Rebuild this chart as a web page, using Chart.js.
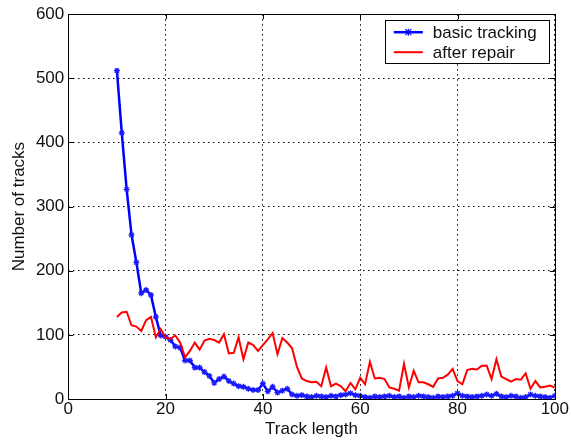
<!DOCTYPE html>
<html>
<head>
<meta charset="utf-8">
<script src="https://cdn.jsdelivr.net/npm/chart.js@4.4.1/dist/chart.umd.min.js"></script>
<style>
  html, body { margin: 0; padding: 0; background: #fff; }
  #wrap { width: 571px; height: 440px; }
</style>
</head>
<body>
<div id="wrap"><canvas id="c" width="571" height="440"></canvas></div>
<script>
const trackLength = [];
for (let i = 10; i <= 100; i++) trackLength.push(i);

const basicTracking = [
  512, 415, 327, 256, 213, 165, 170, 162, 128, 99,
  97, 92, 82, 80, 60, 60, 49, 49, 42, 36,
  25, 31, 35, 28, 24, 20, 19, 16, 14, 14,
  24, 12, 19, 10, 13, 16, 7, 5, 6, 4,
  3, 5, 4, 3, 5, 4, 6, 7, 9, 6,
  5, 3, 2, 4, 3, 4, 5, 3, 4, 2,
  4, 3, 5, 4, 3, 2, 4, 3, 4, 5,
  9, 5, 4, 3, 4, 5, 7, 5, 8, 4,
  3, 5, 4, 2, 3, 7, 5, 4, 3, 2,
  5
];

const afterRepair = [
  128, 135, 136, 115, 113, 106, 123, 128, 96, 109,
  96, 94, 99, 88, 65, 75, 88, 77, 91, 94,
  92, 88, 101, 71, 72, 96, 62, 88, 84, 75,
  84, 93, 103, 70, 95, 88, 79, 50, 32, 28,
  26, 27, 20, 49, 20, 24, 20, 12, 25, 15,
  33, 23, 58, 32, 33, 31, 18, 16, 13, 55,
  18, 44, 26, 26, 23, 19, 32, 33, 38, 47,
  28, 23, 45, 47, 46, 52, 52, 31, 62, 35,
  31, 27, 31, 30, 40, 16, 28, 18, 19, 21,
  18
];

const xTicks = [0, 20, 40, 60, 80, 100];
const yTicks = [0, 100, 200, 300, 400, 500, 600];
const seriesNames = ['basic tracking', 'after repair'];
const FONT = "'Liberation Sans', Arial, Helvetica, sans-serif";

const toPoints = (xs, ys) => xs.map((x, i) => ({ x: x, y: ys[i] }));

const boxPlugin = {
  id: 'boxPlugin',
  afterDatasetsDraw(chart) {
    const { ctx, chartArea: a } = chart;
    ctx.save();
    ctx.strokeStyle = '#000';
    ctx.lineWidth = 1;
    ctx.strokeRect(Math.round(a.left) + 0.5, Math.round(a.top) + 0.5,
                   Math.round(a.right - a.left), Math.round(a.bottom - a.top));
    const xs = chart.scales.x, ys = chart.scales.y;
    ctx.beginPath();
    xTicks.forEach(v => {
      const px = Math.round(xs.getPixelForValue(v)) + 0.5;
      ctx.moveTo(px, a.bottom); ctx.lineTo(px, a.bottom - 5);
      ctx.moveTo(px, a.top); ctx.lineTo(px, a.top + 5);
    });
    yTicks.forEach(v => {
      const py = Math.round(ys.getPixelForValue(v)) + 0.5;
      ctx.moveTo(a.left, py); ctx.lineTo(a.left + 5, py);
      ctx.moveTo(a.right, py); ctx.lineTo(a.right - 5, py);
    });
    ctx.stroke();
    ctx.restore();
  },
  afterDraw(chart) {
    const { ctx, chartArea: a } = chart;
    const ds = chart.data.datasets;
    const bx = a.right - 170, by = a.top + 6, bw = 164, bh = 43;
    ctx.save();
    ctx.fillStyle = '#fff';
    ctx.fillRect(bx, by, bw, bh);
    ctx.strokeStyle = '#000';
    ctx.lineWidth = 1;
    ctx.strokeRect(Math.round(bx) + 0.5, Math.round(by) + 0.5, bw, bh);
    ctx.font = '17px ' + FONT;
    ctx.textBaseline = 'middle';
    const rows = [by + 12, by + 32];
    [0, 1].forEach(i => {
      const y = rows[i];
      ctx.strokeStyle = ds[i].borderColor;
      ctx.lineWidth = ds[i].borderWidth;
      ctx.beginPath();
      ctx.moveTo(bx + 9, y); ctx.lineTo(bx + 38, y);
      ctx.stroke();
      if (i === 0) {
        ctx.lineWidth = 1.2;
        ctx.beginPath();
        ctx.moveTo(bx + 23.5 - 3, y - 3); ctx.lineTo(bx + 23.5 + 3, y + 3);
        ctx.moveTo(bx + 23.5 - 3, y + 3); ctx.lineTo(bx + 23.5 + 3, y - 3);
        ctx.moveTo(bx + 23.5, y - 3.5); ctx.lineTo(bx + 23.5, y + 3.5);
        ctx.stroke();
      }
      ctx.fillStyle = '#111';
      ctx.fillText(seriesNames[i], bx + 48, y + 1);
    });
    ctx.restore();
  }
};

new Chart(document.getElementById('c'), {
  type: 'line',
  data: {
    datasets: [
      {
        label: seriesNames[0],
        data: toPoints(trackLength, basicTracking),
        borderColor: '#0000ff',
        backgroundColor: '#0000ff',
        borderWidth: 2.5,
        pointStyle: 'star',
        pointRadius: 3,
        pointBorderWidth: 1.3,
        pointBorderColor: '#1a1aff',
        tension: 0,
        order: 1
      },
      {
        label: seriesNames[1],
        data: toPoints(trackLength, afterRepair),
        borderColor: '#ff0000',
        backgroundColor: '#ff0000',
        borderWidth: 2,
        pointRadius: 0,
        tension: 0,
        order: 0
      }
    ]
  },
  options: {
    responsive: false,
    animation: false,
    events: [],
    layout: { padding: { left: 9.5, right: 13, top: 10, bottom: 2 } },
    plugins: {
      legend: { display: false },
      tooltip: { enabled: false },
      title: { display: false }
    },
    scales: {
      x: {
        type: 'linear',
        min: 0, max: 100,
        afterBuildTicks: s => { s.ticks = xTicks.map(v => ({ value: v })); },
        grid: { color: '#000', lineWidth: 1, drawTicks: false },
        border: { display: false, dash: [1.5, 3.5] },
        ticks: { color: '#111', font: { family: FONT, size: 17, lineHeight: 1 }, padding: 2, maxRotation: 0 },
        title: { display: true, text: 'Track length', color: '#111', font: { family: FONT, size: 17, lineHeight: 1 }, padding: { top: 1, bottom: 0 } }
      },
      y: {
        type: 'linear',
        min: 0, max: 600,
        afterBuildTicks: s => { s.ticks = yTicks.map(v => ({ value: v })); },
        grid: { color: '#000', lineWidth: 1, drawTicks: false },
        border: { display: false, dash: [1.5, 3.5] },
        ticks: { color: '#111', font: { family: FONT, size: 17 }, padding: 4 },
        title: { display: true, text: 'Number of tracks', color: '#111', font: { family: FONT, size: 17 }, padding: { top: 0, bottom: 2 } }
      }
    }
  },
  plugins: [boxPlugin]
});
</script>
</body>
</html>
